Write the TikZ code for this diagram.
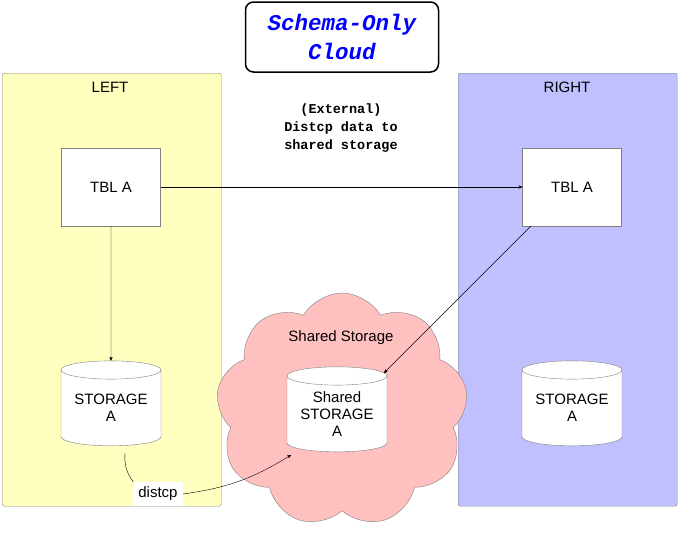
\documentclass[tikz,border=0pt]{standalone}
\usepackage{fontspec}
\setmainfont{Liberation Sans}
\newfontfamily\monof{Liberation Mono}
\usetikzlibrary{arrows, shapes.geometric, shapes.symbols, positioning}
\begin{document}
\begin{tikzpicture}[x=1pt,y=-1pt,>=stealth',font=\fontsize{15}{17}\selectfont]
    \tikzset{panel/.style={draw=gray, rounded corners=2pt, minimum width=219pt, minimum height=433pt, anchor=north west}}
    \tikzset{tbl/.style={draw=gray, fill=white, minimum width=99pt, minimum height=78pt}}
    \tikzset{store/.style={cylinder, shape border rotate=90, aspect=0.25, draw=gray, fill=white, minimum width=100pt, minimum height=85pt, align=center, inner sep=0pt}}
    \useasboundingbox (0,0) rectangle (680,533);
    \node[panel, fill={rgb,255:red,255;green,255;blue,192}] (left)  at (2,73)   {};
    \node[panel, fill={rgb,255:red,192;green,192;blue,255}] (right) at (458,73) {};
    \node (ll) at (110,87) {LEFT};
    \node (rl) at (567,87) {RIGHT};
    \node[draw, rounded corners=8pt, line width=1.5pt, minimum width=193pt, minimum height=70pt, align=center, text=blue,
          font=\monof\bfseries\itshape\fontsize{22.5}{29}\selectfont] (title) at (342,37) {Schema-Only\\Cloud};
    \node[align=center, font=\monof\bfseries\fontsize{13.5}{18}\selectfont] (ext) at (341,128) {(External)\\Distcp data to\\shared storage};
    \node[cloud, cloud puffs=9, cloud puff arc=120, aspect=1.1, draw=gray, fill={rgb,255:red,255;green,192;blue,192},
          minimum width=252pt, minimum height=234pt] (cloud) at (342,410) {};
    \node (sl) at (341,338) {Shared Storage};
    \node[tbl] (ta) at (111,187) {TBL A};
    \node[tbl] (tb) at (572,187) {TBL A};
    \node[store] (sa) at (111,408) {STORAGE\\A};
    \node[store] (sb) at (572,408) {STORAGE\\A};
    \node[store] (sc) at (337,414) {Shared\\STORAGE\\A};
    \node[fill=white, inner sep=5pt] (dl) at (158,494) {distcp};
    % connectors
    \coordinate (tbs) at (531,226);
    \coordinate (sce) at (384,373);
    \coordinate (sas) at (125,453);
    \coordinate (scw) at (291,455);
    \draw[->] (ta) -- (tb);
    \draw[->] (ta) -- (sa);
    \draw[->] (tbs) -- (sce);
    \draw (sas) to[bend right=20] (dl.north west);
    \draw[->] (dl.east) to[bend right=12] (scw);
\end{tikzpicture}
\end{document}
